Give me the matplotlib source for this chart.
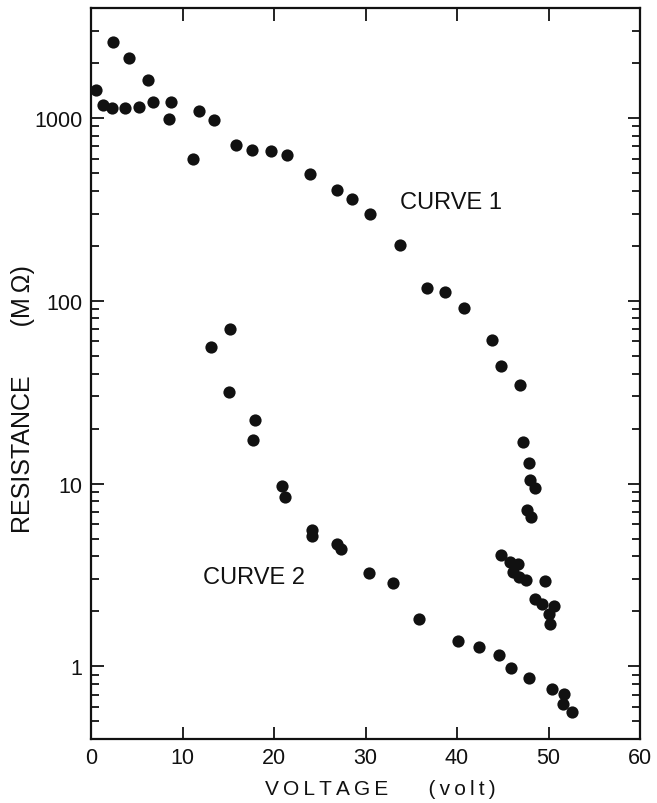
import numpy as np
from matplotlib import pyplot as plt

# Curve 1: voltage (volt) vs resistance (MOhm)
curve1_v = [0.6, 1.35, 2.3, 2.45, 3.75, 4.1, 5.2, 6.25, 6.75, 8.55, 8.7,
            11.2, 11.75, 13.4, 15.8, 17.6, 19.7, 21.45, 23.9, 26.9, 28.5,
            30.5, 33.8, 36.7, 38.7, 40.8, 43.8, 44.8, 46.9, 47.25, 47.85,
            48.0, 48.55, 47.7, 48.05, 44.8, 45.8, 46.7, 46.15, 46.8, 47.5,
            49.6, 48.55, 49.25, 50.6, 50.1, 50.2]
curve1_r = [1420, 1180, 1130, 2590, 1135, 2140, 1150, 1610, 1230, 990, 1220,
            595, 1090, 980, 713, 672, 663, 624, 495, 406, 362,
            300, 201, 118, 112, 91, 61, 43.8, 34.7, 16.9, 13.0,
            10.5, 9.4, 7.2, 6.6, 4.04, 3.71, 3.61, 3.27, 3.07, 2.95,
            2.93, 2.34, 2.20, 2.15, 1.94, 1.70]

# Curve 2
curve2_v = [13.1, 15.15, 15.1, 17.95, 17.7, 20.85, 21.2, 24.1, 24.1, 26.85,
            27.3, 30.4, 33.0, 35.9, 40.15, 42.4, 44.6, 45.9, 47.9, 50.35,
            51.7, 51.6, 52.6]
curve2_r = [56, 70, 31.6, 22.4, 17.4, 9.66, 8.39, 5.56, 5.19, 4.64,
            4.39, 3.24, 2.87, 1.82, 1.38, 1.27, 1.15, 0.976, 0.86, 0.75,
            0.705, 0.622, 0.56]

x_ticks = [0, 10, 20, 30, 40, 50, 60]
y_ticks = [1, 10, 100, 1000]
y_tick_labels = ["1", "10", "100", "1000"]


def spaced(word):
    # old typeset labels are letter-spaced
    return "\u2009".join(word)


plt.rcParams["font.family"] = ["Liberation Sans", "DejaVu Sans"]

W, H = 657, 804
fig = plt.figure(figsize=(W / 100, H / 100), dpi=100)
ax = fig.add_axes([91 / W, 1 - 740 / H, 549 / W, 731 / H])

ax.plot(curve1_v, curve1_r, "o", color="#111111", markersize=8.8,
        markeredgewidth=0)
ax.plot(curve2_v, curve2_r, "o", color="#111111", markersize=8.8,
        markeredgewidth=0)

ax.set_yscale("log")
ax.set_xlim(0, 60)
ax.set_ylim(0.4, 4000)

ax.set_xticks(x_ticks)
ax.set_xticklabels([str(t) for t in x_ticks])
ax.set_yticks(y_ticks)
ax.set_yticklabels(y_tick_labels)

ax.tick_params(which="both", direction="in", top=True, right=True,
               width=1.3, colors="#111111", labelsize=15.5)
ax.tick_params(which="major", length=9, pad=6)
ax.tick_params(which="minor", length=5.5)
ax.tick_params(axis="x", which="minor", length=0)

for spine in ax.spines.values():
    spine.set_linewidth(1.6)
    spine.set_color("#111111")

fig.text(400 / W, 1 - 203 / H, "CURVE 1", fontsize=17, color="#111111",
         va="center")
fig.text(203 / W, 1 - 578 / H, "CURVE 2", fontsize=17, color="#111111",
         va="center")

fig.text(380 / W, 1 - 790 / H,
         spaced("VOLTAGE") + "       " + spaced("(volt)"),
         fontsize=15, color="#111111", ha="center", va="center")
fig.text(23 / W, 1 - 399 / H, "RESISTANCE       (M\u2009\u03a9)",
         fontsize=18, color="#111111", ha="center", va="center",
         rotation=90)

plt.savefig("out.png", dpi=100)
